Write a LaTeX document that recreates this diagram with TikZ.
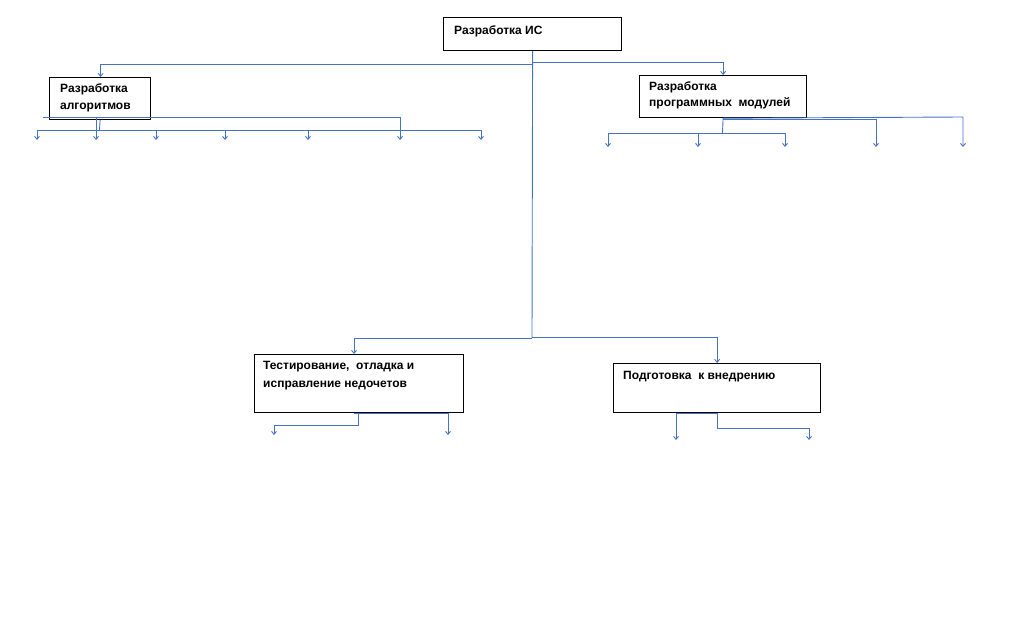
\documentclass[tikz,border=0pt]{standalone}
\usepackage{fontspec}
\setmainfont{Liberation Sans}
\usetikzlibrary{arrows.meta,calc}
\definecolor{lineblue}{RGB}{68,114,196}
\tikzset{
  box/.style={draw=black,line width=1.2pt,fill=none,inner sep=0pt,anchor=north west},
  lbl/.style={anchor=base west,inner sep=0pt,font=\fontsize{12}{14}\selectfont\bfseries},
  conn/.style={draw=lineblue,line width=0.9pt},
  arr/.style={conn,-{Straight Barb[length=3pt,width=5pt]}}
}
\begin{document}
\begin{tikzpicture}[x=1pt,y=-1pt]
\useasboundingbox (0,0) rectangle (1011,628);
% boxes
\node[box,minimum width=178pt,minimum height=33pt] (top) at (443,17) {};
\node[box,minimum width=101pt,minimum height=42pt] (alg) at (49,77) {};
\node[box,minimum width=167pt,minimum height=42pt] (prog) at (639,75) {};
\node[box,minimum width=209pt,minimum height=58pt] (test) at (254,354) {};
\node[box,minimum width=207pt,minimum height=49pt] (podg) at (613,363) {};
% texts
\node[lbl] (ttop) at (454,35) {Разработка ИС};
\node[lbl] (talg1) at (60,93) {Разработка};
\node[lbl] (talg2) at (60,110) {алгоритмов};
\node[lbl] (tprog1) at (649,91) {Разработка};
\node[lbl] (tprog2) at (649,107) {программных\ \ модулей};
\node[lbl] (ttest1) at (263,369) {Тестирование,\ \ отладка и};
\node[lbl] (ttest2) at (263,387) {исправление недочетов};
\node[lbl] (tpodg) at (623,379) {Подготовка\ \ к внедрению};
% junctions
\coordinate (jl) at (532,64);
\coordinate (jr) at (532,62);
\coordinate (jbl) at (532,338);
\coordinate (jbr) at (532,337);
% trunk and main branches
\draw[conn] (top.south) -- (jbl);
\draw[arr] (jl) -| ([xshift=0.5pt]alg.north);
\draw[arr] (jr) -| (prog.north);
\draw[arr] (jbl) -| ([xshift=100pt]test.north west);
\draw[arr] (jbr) -| (podg.north);
% algorithm children
\coordinate (aL) at (43,117);
\coordinate (aR) at (400,117);
\coordinate (aJ) at (99.5,130);
\coordinate (b1) at (37,130);
\coordinate (b7) at (481,130);
\foreach \n/\x in {1/37,2/96,3/156,4/225,5/308,6/400,7/481}{\coordinate (a\n) at (\x,140);}
\draw[conn] (aL) -- (aR);
\draw[arr] (aR) -- (a6);
\draw[arr] (96,117) -- (a2);
\draw[conn] (alg.south) -- (aJ);
\draw[conn] (b1) -- (b7);
\foreach \n/\x in {1/37,3/156,4/225,5/308,7/481}{\draw[arr] (\x,130) -- (a\n);}
% program children
\coordinate (pJ) at (722.5,133);
\foreach \n/\x in {1/608,2/698,3/785,4/876,5/963}{\coordinate (p\n) at (\x,147);}
\draw[conn] (prog.south) -- (pJ);
\draw[conn] (608,133) -- (785,133);
\foreach \n/\x in {1/608,2/698,3/785}{\draw[arr] (\x,133) -- (p\n);}
\draw[arr] (prog.south) -- (963,117) -- (p5);
\draw[arr] (722.5,119) -- (876,119) -- (p4);
% testing children
\coordinate (t1) at (274,435);
\coordinate (t2) at (448,435);
\draw[arr] ([xshift=104pt]test.south west) -- ++(0,12) -| (t1);
\draw[arr] ([xshift=100pt]test.south west) -- ([xshift=194pt]test.south west) -- (t2);
% podg children
\coordinate (d1) at (676,440);
\coordinate (d2) at (809,440);
\draw[arr] (podg.south) -- ([xshift=63pt]podg.south west) -- (d1);
\draw[arr] (podg.south) -- ++(0,15) -| (d2);
\end{tikzpicture}
\end{document}
